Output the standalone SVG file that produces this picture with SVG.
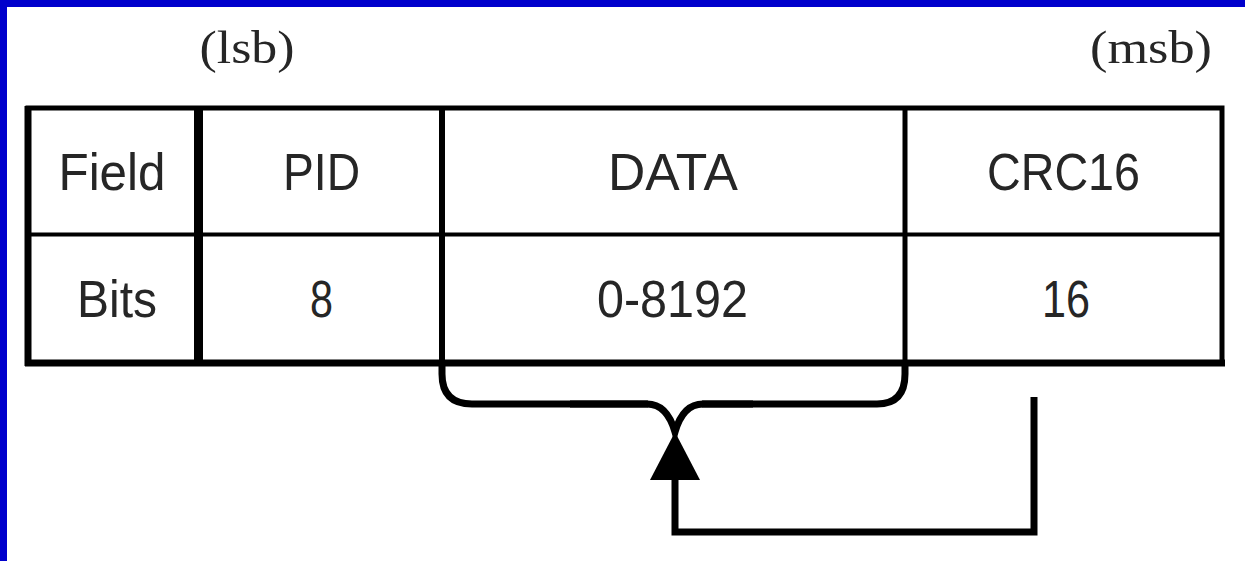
<svg xmlns="http://www.w3.org/2000/svg" width="1245" height="561" viewBox="0 0 1245 561">
  <style>
    .sans { font-family: "Liberation Sans", Arial, sans-serif; font-size: 52px; fill: #262626; text-anchor: middle; }
    .serif { font-family: "Liberation Serif", "Times New Roman", serif; font-size: 46px; fill: #262626; text-anchor: middle; }
    .grid { stroke: #000; fill: none; }
    .wire { stroke: #000; fill: none; stroke-width: 7; stroke-linejoin: miter; }
  </style>
  <defs>
    <marker id="arrow" markerUnits="userSpaceOnUse" viewBox="0 0 48 50" refX="0" refY="25" markerWidth="48" markerHeight="50" orient="auto">
      <path d="M0,0 L48,25 L0,50 Z" fill="#000"/>
    </marker>
  </defs>

  <!-- page background and frame edges -->
  <rect x="0" y="0" width="1245" height="561" fill="#ffffff"/>
  <rect x="0" y="0" width="1245" height="7" fill="#0000cc"/>
  <rect x="0" y="0" width="7" height="561" fill="#0000cc"/>

  <!-- bit order labels -->
  <g id="label-lsb">
    <text class="serif" x="247" y="63" textLength="95" lengthAdjust="spacingAndGlyphs">(lsb)</text>
  </g>
  <g id="label-msb">
    <text class="serif" x="1151" y="63" textLength="122" lengthAdjust="spacingAndGlyphs">(msb)</text>
  </g>

  <!-- table grid -->
  <g id="table-grid">
    <rect class="grid" x="28" y="108" width="1194" height="255" stroke-width="5"/>
    <line class="grid" x1="25" y1="363" x2="1225" y2="363" stroke-width="7"/>
    <line class="grid" x1="28" y1="106" x2="28" y2="366" stroke-width="7"/>
    <line class="grid" x1="28" y1="234.5" x2="1222" y2="234.5" stroke-width="4"/>
    <line class="grid" x1="198.5" y1="108" x2="198.5" y2="363" stroke-width="9"/>
    <line class="grid" x1="442" y1="108" x2="442" y2="363" stroke-width="6"/>
    <line class="grid" x1="905" y1="108" x2="905" y2="363" stroke-width="5"/>
  </g>

  <!-- header column -->
  <g id="col-header">
    <text class="sans" x="112" y="190" textLength="107" lengthAdjust="spacingAndGlyphs">Field</text>
    <text class="sans" x="117" y="317" textLength="80" lengthAdjust="spacingAndGlyphs">Bits</text>
  </g>

  <!-- PID field -->
  <g id="col-pid">
    <text class="sans" x="321.5" y="190" textLength="77" lengthAdjust="spacingAndGlyphs">PID</text>
    <text class="sans" x="321.5" y="317" textLength="23" lengthAdjust="spacingAndGlyphs">8</text>
  </g>

  <!-- DATA field -->
  <g id="col-data">
    <text class="sans" x="673" y="190" textLength="130" lengthAdjust="spacingAndGlyphs">DATA</text>
    <text class="sans" x="672.5" y="317" textLength="151" lengthAdjust="spacingAndGlyphs">0-8192</text>
  </g>

  <!-- CRC16 field -->
  <g id="col-crc16">
    <text class="sans" x="1063.5" y="190" textLength="153" lengthAdjust="spacingAndGlyphs">CRC16</text>
    <text class="sans" x="1066" y="317" textLength="48" lengthAdjust="spacingAndGlyphs">16</text>
  </g>

  <!-- connectors -->
  <g id="connectors">
    <!-- brace spanning the DATA field -->
    <path class="wire" d="M442,360 L442,374 Q442,404 472,404 L647,404 Q667,404 675,432 Q683,404 703,404 L877,404 Q905,404 905,374 L905,360"/>
    <path class="wire" stroke-width="11" d="M570,404 L648,404 M702,404 L753,404"/>
    <!-- CRC coverage arrow back to the brace -->
    <path class="wire" d="M1034,397 L1034,532 L675,532 L675,480" marker-end="url(#arrow)"/>
  </g>
</svg>
